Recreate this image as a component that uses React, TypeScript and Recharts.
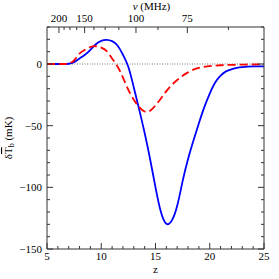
import React from "react";
import {
  LineChart,
  Line,
  XAxis,
  YAxis,
  ReferenceLine,
} from "recharts";

// redshift grid and the two brightness-temperature curves (mK)
const zValues = [
  5, 5.5, 6, 6.5, 7, 7.5, 8, 8.5, 9, 9.5, 10, 10.5, 11, 11.5, 12, 12.5, 13, 13.5, 14, 14.5,
  15, 15.5, 16, 16.5, 17, 17.5, 18, 18.5, 19, 19.5, 20, 20.5, 21, 21.5, 22, 22.5, 23, 23.5,
  24, 24.5, 25,
];
const blueValues = [
  0, 0, 0, 0, 0.2, 1.5, 4.5, 7.5, 11.5, 16, 18.8, 19.6, 18.5, 15, 7.5, -2.5, -19, -37, -56,
  -77, -100, -120, -129.5, -127, -115, -95, -77, -62, -48, -35, -24, -15, -9.5, -6, -4.3,
  -3.2, -2.6, -2.2, -2, -2, -2,
];
const redValues = [
  0, 0, 0, 0, 0.4, 3, 8.5, 11.5, 13.8, 14.4, 13.3, 10.5, 4.5, -2, -11, -21, -29, -35, -38.5,
  -38, -33.5, -28, -22, -17, -13, -9.5, -6.8, -4.6, -3.2, -2.3, -1.7, -1.3, -1, -0.8, -0.7,
  -0.6, -0.5, -0.4, -0.35, -0.3, -0.3,
];

// axis ticks
const zTicks = [5, 6, 7, 8, 9, 10, 11, 12, 13, 14, 15, 16, 17, 18, 19, 20, 21, 22, 23, 24, 25];
const zLabels = [5, 10, 15, 20, 25];
const yTicks = [-150, -140, -130, -120, -110, -100, -90, -80, -70, -60, -50, -40, -30, -20, -10, 0, 10, 20, 30];
const yLabels = [-150, -100, -50, 0];
const nuTicks = [200, 187.5, 175, 162.5, 150, 137.5, 125, 112.5, 100, 87.5, 75, 62.5];
const nuLabels = [200, 150, 100, 75];
const NU21 = 1420;

const data = zValues.map((z, i) => ({ z, blue: blueValues[i], red: redValues[i] }));
const nuToZ = (nu: number) => NU21 / nu - 1;
const zToNu = (z: number) => Math.round((NU21 / (z + 1)) * 10) / 10;

const FONT = "Liberation Serif";
const AXIS = "#333";
const minus = (v: number) => (v < 0 ? "\u2212" + Math.abs(v) : String(v));

const BottomTick = ({ x, y, payload }: any) => {
  const major = zLabels.includes(payload.value);
  return (
    <g>
      <line x1={x} x2={x} y1={y} y2={y - (major ? 6 : 3)} stroke={AXIS} />
      {major && (
        <text x={x} y={y + 11} textAnchor="middle" fontSize={11} fontFamily={FONT} fill="#000">
          {payload.value}
        </text>
      )}
    </g>
  );
};

const TopTick = ({ x, y, payload }: any) => {
  const nu = zToNu(payload.value);
  const major = nuLabels.includes(nu);
  return (
    <g>
      <line x1={x} x2={x} y1={y} y2={y + (major ? 6 : 3)} stroke={AXIS} />
      {major && (
        <text x={x} y={y - 5} textAnchor="middle" fontSize={11} fontFamily={FONT} fill="#000">
          {nu}
        </text>
      )}
    </g>
  );
};

const LeftTick = ({ x, y, payload }: any) => {
  const major = yLabels.includes(payload.value);
  return (
    <g>
      <line x1={x} x2={x + (major ? 6 : 3)} y1={y} y2={y} stroke={AXIS} />
      {major && (
        <text x={x - 5} y={y + 4} textAnchor="end" fontSize={11} fontFamily={FONT} fill="#000">
          {minus(payload.value)}
        </text>
      )}
    </g>
  );
};

const RightTick = ({ x, y, payload }: any) => {
  const major = yLabels.includes(payload.value);
  return <line x1={x} x2={x - (major ? 6 : 3)} y1={y} y2={y} stroke={AXIS} />;
};

const YTitle = ({ viewBox }: any) => {
  const cy = viewBox.y + viewBox.height / 2;
  return (
    <text
      transform={`translate(12,${cy}) rotate(-90)`}
      textAnchor="middle"
      fontSize={11}
      fontFamily={FONT}
      fill="#000"
    >
      δ<tspan textDecoration="overline">T</tspan>
      <tspan fontSize={8} dy={2}>b</tspan>
      <tspan dy={-2}> (mK)</tspan>
    </text>
  );
};

const XTitle = ({ viewBox }: any) => (
  <text
    x={viewBox.x + viewBox.width / 2}
    y={viewBox.y + 24}
    textAnchor="middle"
    fontSize={11}
    fontFamily={FONT}
    fill="#000"
  >
    z
  </text>
);

const NuTitle = ({ viewBox }: any) => (
  <text
    x={viewBox.x + viewBox.width / 2 - 4}
    y={10}
    textAnchor="middle"
    fontSize={11}
    fontFamily={FONT}
    fill="#000"
  >
    <tspan fontStyle="italic">ν</tspan>  (MHz)
  </text>
);

export default function App() {
  return (
    <div style={{ position: "absolute", left: 0, top: 0, width: 279, height: 279, background: "#fff" }}>
      <LineChart width={279} height={279} data={data} margin={{ top: 0, right: 0, bottom: 0, left: 0 }}>
        <XAxis
          xAxisId="bottom"
          dataKey="z"
          type="number"
          domain={[5, 25]}
          ticks={zTicks}
          interval={0}
          height={30}
          tickSize={0}
          tickMargin={0}
          tickLine={false}
          axisLine={{ stroke: AXIS }}
          tick={(p: any) => <BottomTick {...p} />}
          label={{ content: (p: any) => <XTitle {...p} /> }}
        />
        <XAxis
          xAxisId="top"
          orientation="top"
          dataKey="z"
          type="number"
          domain={[5, 25]}
          allowDataOverflow
          ticks={nuTicks.map(nuToZ)}
          interval={0}
          height={27}
          tickSize={0}
          tickMargin={0}
          tickLine={false}
          axisLine={{ stroke: AXIS }}
          tick={(p: any) => <TopTick {...p} />}
          label={{ content: (p: any) => <NuTitle {...p} /> }}
        />
        <YAxis
          yAxisId="left"
          type="number"
          domain={[-150, 30]}
          allowDataOverflow
          ticks={yTicks}
          interval={0}
          width={47}
          tickSize={0}
          tickMargin={0}
          tickLine={false}
          axisLine={{ stroke: AXIS }}
          tick={(p: any) => <LeftTick {...p} />}
          label={{ content: (p: any) => <YTitle {...p} /> }}
        />
        <YAxis
          yAxisId="right"
          orientation="right"
          type="number"
          domain={[-150, 30]}
          allowDataOverflow
          ticks={yTicks}
          interval={0}
          width={15}
          tickSize={0}
          tickMargin={0}
          tickLine={false}
          axisLine={{ stroke: AXIS }}
          tick={(p: any) => <RightTick {...p} />}
        />
        <ReferenceLine
          xAxisId="bottom"
          yAxisId="left"
          y={0}
          stroke="#777"
          strokeDasharray="1 1.5"
        />
        {/* carrier for the mirrored top/right axes, drawn invisible */}
        <Line
          xAxisId="top"
          yAxisId="right"
          dataKey="blue"
          stroke="none"
          dot={false}
          activeDot={false}
          legendType="none"
          isAnimationActive={false}
        />
        <Line
          xAxisId="bottom"
          yAxisId="left"
          type="natural"
          dataKey="blue"
          stroke="#0000ff"
          strokeWidth={1.8}
          dot={false}
          isAnimationActive={false}
        />
        <Line
          xAxisId="bottom"
          yAxisId="left"
          type="natural"
          dataKey="red"
          stroke="#ff0000"
          strokeWidth={1.8}
          strokeDasharray="8 4"
          dot={false}
          isAnimationActive={false}
        />
      </LineChart>
    </div>
  );
}
